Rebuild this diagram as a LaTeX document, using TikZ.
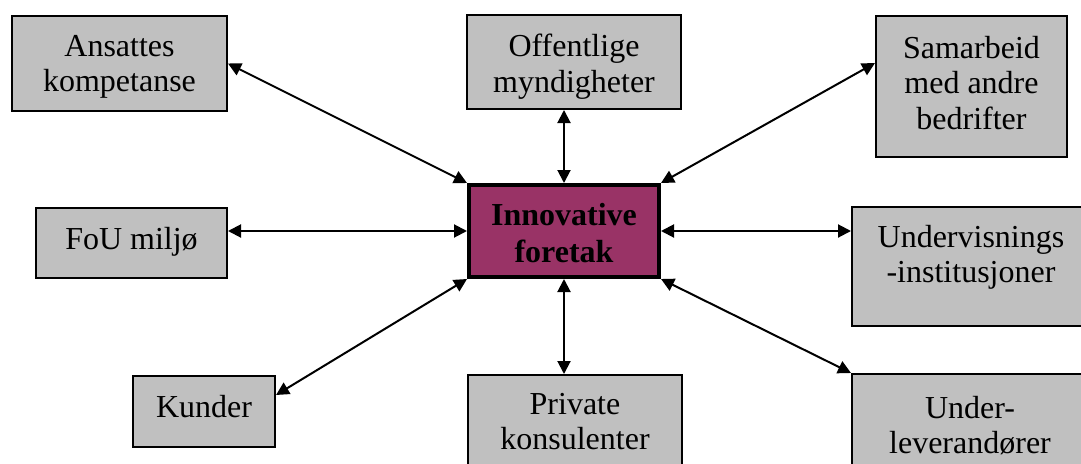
\documentclass[tikz,border=0pt]{standalone}
\usepackage{fontspec}
\setmainfont{Liberation Serif}
\usetikzlibrary{arrows.meta,calc}
\definecolor{boxgray}{HTML}{C0C0C0}
\definecolor{plum}{HTML}{993366}
\tikzset{
  gbox/.style={draw=black, line width=2pt, fill=boxgray, inner sep=0pt},
  cbox/.style={draw=black, line width=4pt, fill=plum, inner sep=0pt},
  txt/.style={align=center, inner sep=0pt, anchor=north, font=\fontsize{32}{35.5}\selectfont},
  ctxt/.style={align=center, inner sep=0pt, anchor=north, font=\fontsize{32}{37}\selectfont\bfseries},
  link/.style={line width=2pt, {Triangle[length=13pt,width=13pt]}-{Triangle[length=13pt,width=13pt]}}
}
\begin{document}
\begin{tikzpicture}[x=1pt,y=-1pt]
\useasboundingbox (0,0) rectangle (1081,463);
\clip (0,0) rectangle (1081,463);
% boxes
\node[gbox, minimum width=215pt, minimum height=95pt] (ans) at (119.5,63.5) {};
\node[gbox, minimum width=214pt, minimum height=94pt] (off) at (574,62) {};
\node[gbox, minimum width=191pt, minimum height=141pt] (sam) at (971.5,86.5) {};
\node[gbox, minimum width=191pt, minimum height=70pt] (fou) at (131.5,243) {};
\node[cbox, minimum width=190pt, minimum height=92pt] (cen) at (564,231) {};
\node[gbox, minimum width=238pt, minimum height=119pt] (und) at (971,266.5) {};
\node[gbox, minimum width=142pt, minimum height=71pt] (kun) at (204,411.5) {};
\node[gbox, minimum width=214pt, minimum height=104pt] (pri) at (575,427) {};
\node[gbox, minimum width=236pt, minimum height=105pt] (lev) at (970,426.5) {};
% texts
\node[txt] (ans-t) at (119.5,35) {Ansattes\\kompetanse};
\node[txt] (off-t) at (574,34) {Offentlige\\myndigheter};
\node[txt] (sam-t) at (971.5,36) {Samarbeid\\med andre\\bedrifter};
\node[txt] (fou-t) at (131.5,227) {FoU miljø};
\node[ctxt] (cen-t) at (564,203) {Innovative\\foretak};
\node[txt] (und-t) at (971,225) {Undervisnings\\-institusjoner};
\node[txt] (kun-t) at (204,395) {Kunder};
\node[txt] (pri-t) at (575,393) {Private\\konsulenter};
\node[txt] (lev-t) at (970,396) {Under-\\leverandører};
% connectors
\draw[link] (ans.east) -- (cen.north west);
\draw[link] (off.south -| cen.north) -- (cen.north);
\draw[link] ($(sam.north west)+(0,48)$) -- (cen.north east);
\draw[link] (fou.east |- cen.west) -- (cen.west);
\draw[link] (cen.east) -- (und.west |- cen.east);
\draw[link] ($(kun.north east)+(0,20)$) -- (cen.south west);
\draw[link] (cen.south) -- (pri.north -| cen.south);
\draw[link] (cen.south east) -- (lev.north west);
\end{tikzpicture}
\end{document}
